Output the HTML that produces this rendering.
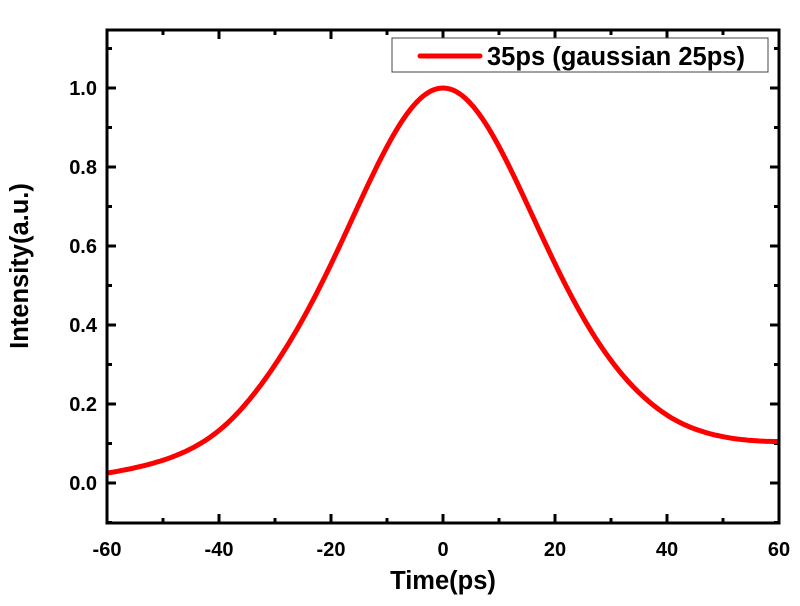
<!DOCTYPE html>
<html><head><meta charset="utf-8"><style>
body{margin:0;background:#fff}
svg{display:block;font-family:"Liberation Sans",Arial,sans-serif;font-weight:bold}
</style></head><body>
<svg id="s" width="800" height="606" viewBox="0 0 800 606" xmlns="http://www.w3.org/2000/svg">
<rect width="800" height="606" fill="#fff"/>
<g id="ticks" stroke="#000" stroke-width="3"></g>
<path id="curve" fill="none" stroke="#ff0000" stroke-width="5" stroke-linejoin="round"/>
<rect x="107" y="30" width="672" height="493" fill="none" stroke="#000" stroke-width="3"/>
<rect x="392" y="38" width="376" height="34" fill="#fff" stroke="#444" stroke-width="1"/>
<line x1="420" y1="56" x2="480" y2="56" stroke="#ff0000" stroke-width="5" stroke-linecap="round"/>
<text x="487" y="65" font-size="25.5">35ps (gaussian 25ps)</text>
<g id="lab" font-size="20"></g>
<text x="443" y="589" font-size="25.5" text-anchor="middle">Time(ps)</text>
<text transform="translate(28,266) rotate(-90)" font-size="25.5" text-anchor="middle">Intensity(a.u.)</text>
</svg>
<script>
var X=function(t){return 443+t*5.6},Y=function(v){return 483-v*395};
var ns="http://www.w3.org/2000/svg",tk=document.getElementById('ticks'),lb=document.getElementById('lab');
function ln(a,b,c,d){var l=document.createElementNS(ns,'line');l.setAttribute('x1',a);l.setAttribute('y1',b);l.setAttribute('x2',c);l.setAttribute('y2',d);tk.appendChild(l);}
function tx(x,y,s,anc){var t=document.createElementNS(ns,'text');t.setAttribute('x',x);t.setAttribute('y',y);t.setAttribute('text-anchor',anc);t.textContent=s;lb.appendChild(t);}
for(var t=-60;t<=60;t+=10){var x=X(t),L=(t%20==0)?9:5;ln(x,523,x,523-L);ln(x,30,x,30+L);if(t%20==0)tx(x,556,String(t),'middle');}
for(var i=-1;i<=11;i++){var v=i/10,y=Y(v),L=(i%2==0)?9:5;ln(107,y,107+L,y);ln(779,y,779-L,y);if(i%2==0&&i>=0)tx(97,y+7,v.toFixed(1),'end');}
var d='';
for(var t=-60;t<=60;t+=0.5){var L=1/(1+(t/25)*(t/25)),G=Math.exp(-t*t/578);var f=0.5*L+0.5*G;
f-=0.05/(1+Math.exp((t+35)/4));
if(t>40)f+=0.03*Math.pow((t-40)/20,1.5);
d+=(d?'L':'M')+X(t).toFixed(1)+' '+Y(f).toFixed(1);}
document.getElementById('curve').setAttribute('d',d);
</script>
</body></html>
